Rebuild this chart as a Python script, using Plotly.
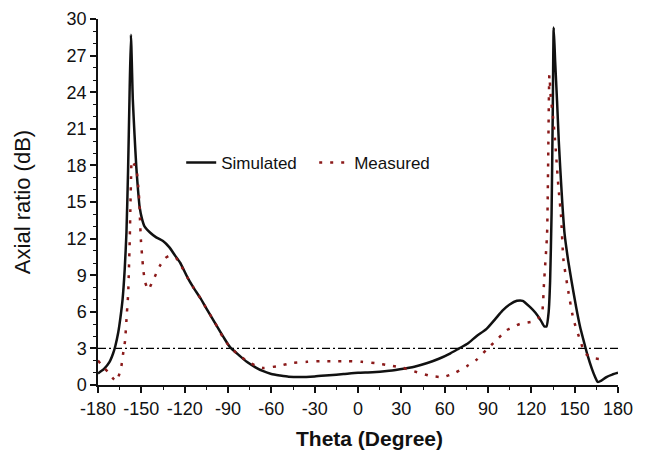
import plotly.graph_objects as go

# Simulated axial ratio (dB) vs theta (deg)
sim_theta = [-180, -176, -172, -169.5, -168, -166, -164.5, -163, -161.5, -160.3, -159.2, -158.2,
             -157.2, -155.9, -154.7, -153.5, -152.3, -151.2, -149.5, -147.8, -144, -139.7, -135,
             -130.7, -126, -123, -118, -114, -109, -104.6, -97.6, -93, -88.6, -82, -77, -71, -66,
             -60, -54, -48, -40, -30, -20, -10, 0, 10, 20, 29, 39, 48, 56, 64, 70, 76, 82, 89, 95,
             100, 105, 110, 114, 119, 123, 126.5, 129, 130.5, 132, 133, 134, 134.8, 135.5, 136.5,
             137.8, 139, 140, 141.5, 143, 145.5, 148, 151, 153.7, 156.5, 159, 162, 164, 166,
             168.5, 172, 176, 180]
sim_ar = [0.95, 1.3, 1.9, 2.6, 3.2, 4.3, 5.5, 7.0, 9.5, 12.5, 17.5, 23.5,
          28.7, 23.4, 20.5, 17.9, 16.0, 14.6, 13.6, 13.0, 12.5, 12.1, 11.8,
          11.3, 10.5, 10.0, 8.8, 8.0, 7.1, 6.2, 4.8, 3.9, 3.1, 2.4, 1.9, 1.45, 1.15,
          0.9, 0.78, 0.68, 0.65, 0.7, 0.8, 0.9, 1.0, 1.05, 1.15, 1.3, 1.5, 1.8, 2.15, 2.6, 3.0, 3.4, 4.0, 4.6, 5.4,
          6.1, 6.6, 6.9, 6.9, 6.4, 5.9, 5.3, 4.8, 4.8, 6.0, 8.5, 14.0, 22.0, 29.3, 26.5,
          23.3, 20.0, 17.8, 14.8, 12.4, 10.2, 8.4, 6.4, 4.8, 3.5, 2.4, 1.3, 0.7, 0.25,
          0.35, 0.65, 0.85, 1.0]

# Measured axial ratio (dB) vs theta (deg)
mea_theta = [-180, -176.5, -173, -170, -167.6, -165.5, -164, -162.7, -161.3, -160, -159.1, -158.6,
             -158, -157.5, -157, -156.7, -155, -153.3, -152.1, -151.4, -150.9, -150.3, -149.5,
             -148.5, -147.3, -145.2, -143, -140.6, -137, -133.5, -130.7, -126, -123, -118, -114,
             -109, -104.6, -99, -93.5, -88.6, -82, -76, -71, -65.8, -55.4, -45.7, -35.3, -26.3,
             -16.6, -6.9, 2.8, 11.8, 22.2, 31.2, 40.9, 49.9, 58.9, 67.2, 75.5, 82.4, 89, 96, 103,
             112, 121, 125, 127.4, 128.8, 130.9, 131.6, 132.5, 133.5, 135, 136.4, 138.7, 140.6,
             142.2, 145.7, 149.1, 153.7, 157.2, 163, 169.7, 172]
mea_ar = [2.0, 1.5, 1.05, 0.6, 0.3, 0.8, 1.4, 2.5, 3.6, 5.9, 7.5, 9.5,
          12.0, 15.0, 17.5, 18.4, 18.1, 17.6, 16.2, 15.1, 13.5, 11.9, 10.6,
          9.3, 8.4, 7.8, 8.3, 8.9, 9.8, 10.4, 10.6, 10.4, 9.9, 8.8, 8.0,
          7.1, 6.2, 5.1, 3.9, 3.1, 2.4, 1.9, 1.6, 1.4, 1.55, 1.8, 1.9, 1.95,
          1.95, 1.95, 1.9, 1.8, 1.6, 1.4, 1.05, 0.75, 0.65, 1.0, 1.55, 2.1, 2.9, 3.7, 4.5,
          5.0, 5.2, 5.5, 5.9, 8.4, 12.4, 17.8, 25.4, 23.5, 22.0, 20.1, 16.3, 13.8,
          10.3, 7.6, 5.4, 3.7, 2.6, 2.2, 2.1, 2.0]

ref_theta = [-180, 180]
ref_ar = [3, 3]

x_ticks = [-180, -150, -120, -90, -60, -30, 0, 30, 60, 90, 120, 150, 180]
y_ticks = [0, 3, 6, 9, 12, 15, 18, 21, 24, 27, 30]

FONT = "Liberation Sans, Arial, sans-serif"

fig = go.Figure()
fig.add_trace(go.Scatter(x=ref_theta, y=ref_ar, mode="lines", showlegend=False,
                         line=dict(color="#000000", width=1.3, dash="8px,3px,2px,3px")))
fig.add_trace(go.Scatter(x=sim_theta, y=sim_ar, mode="lines", name="Simulated",
                         line=dict(color="#111111", width=2.5, shape="spline", smoothing=0.5)))
fig.add_trace(go.Scatter(x=mea_theta, y=mea_ar, mode="lines", name="Measured",
                         line=dict(color="#8b1a1a", width=2.5, dash="3px,8px", shape="spline", smoothing=0.5)))

# page body has an 8px default margin, so the figure is sized to fit the 645x455 window
fig.update_layout(
    width=637, height=447,
    margin=dict(l=90, r=27, t=11, b=70, autoexpand=False),
    paper_bgcolor="white", plot_bgcolor="white",
    font=dict(family=FONT, size=18, color="#111111"),
    legend=dict(orientation="h", x=0.16, y=0.607, xanchor="left", yanchor="middle",
                bgcolor="rgba(0,0,0,0)", font=dict(size=17, family=FONT), itemwidth=30,
                entrywidth=88, entrywidthmode="pixels"),
    annotations=[dict(text="<b>Theta (Degree)</b>", xref="paper", yref="paper",
                      x=0.523, y=-0.146, xanchor="center", yanchor="middle", showarrow=False,
                      font=dict(size=21, family=FONT, color="#111111"))],
)
fig.update_xaxes(range=[-180, 180], tickvals=x_ticks, ticktext=[str(v) for v in x_ticks],
                 showgrid=False, zeroline=False, showline=True, linecolor="#111111", linewidth=1.5,
                 ticks="outside", ticklen=6, tickwidth=1.5, tickcolor="#111111", automargin=False,
                 minor=dict(dtick=15, ticks="outside", ticklen=3, tickwidth=1, tickcolor="#111111"),
                 tickfont=dict(size=18), ticklabelstandoff=1)
fig.update_yaxes(range=[0, 30], tickvals=y_ticks, ticktext=[str(v) for v in y_ticks],
                 showgrid=False, zeroline=False, showline=True, linecolor="#111111", linewidth=1.5,
                 ticks="outside", ticklen=6, tickwidth=1.5, tickcolor="#111111", automargin=False,
                 minor=dict(dtick=1, ticks="outside", ticklen=3, tickwidth=1, tickcolor="#111111"),
                 tickfont=dict(size=18),
                 title=dict(text="Axial ratio (dB)", font=dict(size=22), standoff=30))

fig.write_html("out.html")
